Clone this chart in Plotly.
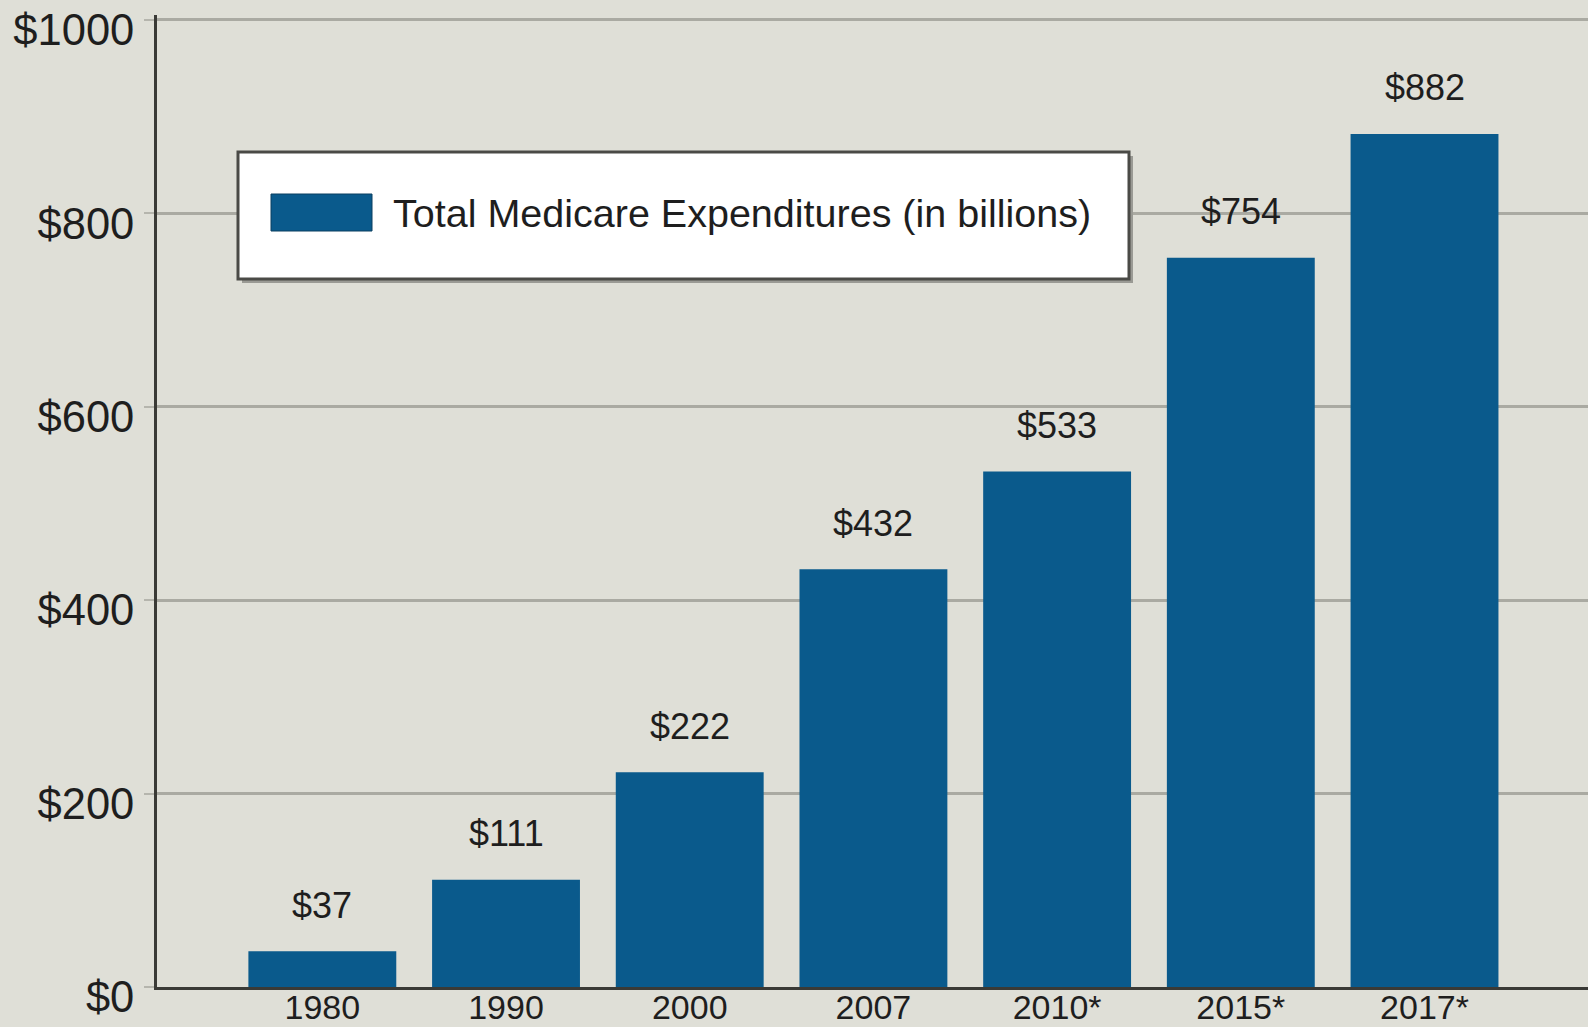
import plotly.graph_objects as go

years = ["1980", "1990", "2000", "2007", "2010*", "2015*", "2017*"]
spending = [37, 111, 222, 432, 533, 754, 882]
value_labels = ["$37", "$111", "$222", "$432", "$533", "$754", "$882"]
y_ticks = [0, 200, 400, 600, 800, 1000]
y_tick_labels = ["$0", "$200", "$400", "$600", "$800", "$1000"]
series_name = "Total Medicare Expenditures (in billions)"

BAR = "#0a5a8c"
BG = "#dfdfd7"
TXT = "#1e1e1e"
W, H = 1588, 1027
L, R, T, B = 157, 0, 15, 40
PW, PH = W - L - R, H - T - B
BASE = H - B

def px(x):
    return (x - L) / PW

def py(y):
    return (BASE - y) / PH

fig = go.Figure()
fig.add_trace(go.Bar(
    x=years, y=spending, name=series_name,
    marker=dict(color=BAR, line=dict(width=0)),
    showlegend=False,
))

for i, (v, lab) in enumerate(zip(spending, value_labels)):
    fig.add_annotation(x=i, y=v, text=lab, showarrow=False,
                       yanchor="middle", yshift=46,
                       font=dict(family="Liberation Sans, Arial", size=36, color=TXT))

# manual legend (large swatch as in the reference)
fig.add_shape(type="rect", xref="paper", yref="paper",
              x0=px(242), x1=px(1133), y0=py(283), y1=py(156),
              fillcolor="#9a9a94", line=dict(width=0), layer="above")
fig.add_shape(type="rect", xref="paper", yref="paper",
              x0=px(238), x1=px(1129), y0=py(279), y1=py(152),
              fillcolor="white", line=dict(color="#4a4a46", width=3), layer="above")
fig.add_shape(type="rect", xref="paper", yref="paper",
              x0=px(271), x1=px(372), y0=py(231), y1=py(194),
              fillcolor=BAR, line=dict(color="#0b3f60", width=1), layer="above")
fig.add_annotation(xref="paper", yref="paper", x=px(391), y=py(213),
                   xanchor="left", yanchor="middle", showarrow=False,
                   text=series_name,
                   font=dict(family="Liberation Sans, Arial", size=39.5, color=TXT))

fig.update_layout(
    width=W, height=H,
    margin=dict(l=L, r=R, t=T, b=B, pad=0, autoexpand=False),
    paper_bgcolor=BG, plot_bgcolor=BG,
    bargap=0.195,
    font=dict(family="Liberation Sans, Arial", color=TXT),
)
fig.update_xaxes(
    range=[-0.9, 6.89], type="category", automargin=False,
    showline=True, linecolor="#3a3a36", linewidth=3,
    showgrid=False, ticks="",
    tickfont=dict(size=34, color=TXT),
    ticklabelstandoff=-12, ticklabeloverflow="allow",
)
fig.update_yaxes(
    range=[0, 1005], tickvals=y_ticks, ticktext=y_tick_labels, automargin=False,
    showline=True, linecolor="#3a3a36", linewidth=3,
    showgrid=True, gridcolor="#aaaaa2", gridwidth=3,
    ticks="outside", ticklen=10, tickcolor="#b5b5ad", tickwidth=2,
    tickfont=dict(size=43.5, color=TXT),
    ticklabelstandoff=1, ticklabelshift=10, ticklabeloverflow="allow",
    zeroline=False,
)

fig.write_html("out.html")
